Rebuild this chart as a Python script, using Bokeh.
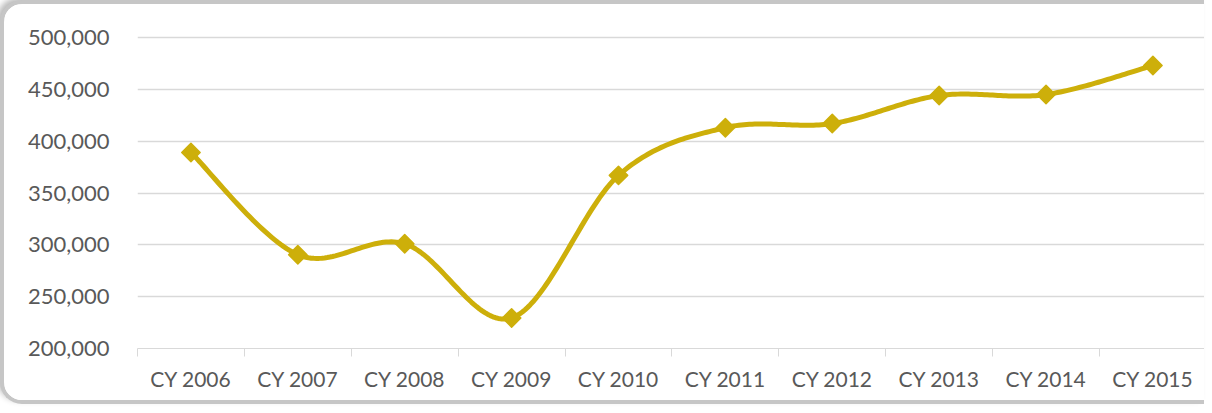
import numpy as np
from bokeh.plotting import figure
from bokeh.models import Range1d, FixedTicker, NumeralTickFormatter, ColumnDataSource
from bokeh.embed import file_html
from bokeh.resources import INLINE

categories = ["CY 2006", "CY 2007", "CY 2008", "CY 2009", "CY 2010",
              "CY 2011", "CY 2012", "CY 2013", "CY 2014", "CY 2015"]
values = [389000, 290500, 301000, 229500, 367000, 413000, 417000, 444000, 445000, 473000]
y_ticks = [200000, 250000, 300000, 350000, 400000, 450000, 500000]

GOLD = "#CDAF0A"
FONT = "Lato"

xs = np.arange(len(categories), dtype=float)
ys = np.array(values, dtype=float)

# Catmull-Rom style smoothing (like Excel's smoothed line)
def smooth(x, y, n=40):
    px, py = [], []
    N = len(x)
    for i in range(N - 1):
        x0, y0 = (x[i - 1], y[i - 1]) if i > 0 else (x[i], y[i])
        x1, y1 = x[i], y[i]
        x2, y2 = x[i + 1], y[i + 1]
        x3, y3 = (x[i + 2], y[i + 2]) if i + 2 < N else (x2, y2)
        c1x, c1y = x1 + (x2 - x0) / 6, y1 + (y2 - y0) / 6
        c2x, c2y = x2 - (x3 - x1) / 6, y2 - (y3 - y1) / 6
        t = np.linspace(0, 1, n, endpoint=(i == N - 2))
        b0 = (1 - t) ** 3
        b1 = 3 * (1 - t) ** 2 * t
        b2 = 3 * (1 - t) * t ** 2
        b3 = t ** 3
        px.extend(b0 * x1 + b1 * c1x + b2 * c2x + b3 * x2)
        py.extend(b0 * y1 + b1 * c1y + b2 * c2y + b3 * y2)
    return px, py

sx, sy = smooth(xs, ys)

p = figure(width=1204, height=404, output_backend="svg", toolbar_location=None,
           x_range=Range1d(-0.5, 9.52), y_range=Range1d(200000, 502900),
           min_border_left=133, min_border_right=0, min_border_top=30, min_border_bottom=60)
p.styles = {
    "border-left": "4px solid #c6c6c6",
    "border-top": "4px solid #c6c6c6",
    "border-bottom": "4px solid #c6c6c6",
    "border-radius": "22px 0 0 22px",
    "box-shadow": "-4px -3px 6px -1px rgba(0,0,0,0.28)",
    "overflow": "hidden",
    "background": "white",
}
p.outline_line_color = None
p.background_fill_color = "white"
p.border_fill_color = "white"

# x axis
xa = p.xaxis[0]
xa.ticker = FixedTicker(ticks=list(xs), minor_ticks=list(np.arange(-0.5, 10, 1.0)))
xa.major_label_overrides = {float(i): c for i, c in enumerate(categories)}
xa.major_label_overrides.update({int(i): c for i, c in enumerate(categories)})
xa.major_tick_out = 0
xa.major_tick_in = 0
xa.minor_tick_out = 8
xa.minor_tick_in = 0
xa.minor_tick_line_color = "#d9d9d9"
xa.minor_tick_line_width = 1
xa.axis_line_color = "#d9d9d9"
xa.axis_line_width = 1
xa.major_label_standoff = 9
xa.major_label_text_font = FONT
xa.major_label_text_font_size = "21px"
xa.major_label_text_color = "#595959"

# y axis
ya = p.yaxis[0]
ya.ticker = FixedTicker(ticks=y_ticks)
ya.formatter = NumeralTickFormatter(format="0,0")
ya.axis_line_color = None
ya.major_tick_line_color = None
ya.minor_tick_line_color = None
ya.major_tick_out = 0
ya.major_tick_in = 0
ya.major_label_standoff = 28
ya.major_label_text_font = FONT
ya.major_label_text_font_size = "22px"
ya.major_label_text_color = "#595959"

p.xgrid.grid_line_color = None
p.ygrid.grid_line_color = "#d9d9d9"
p.ygrid.grid_line_width = 1.5
p.ygrid.ticker = FixedTicker(ticks=y_ticks[1:])

p.line(sx, sy, line_color=GOLD, line_width=5, line_join="round", line_cap="round")
src = ColumnDataSource(dict(x=xs, y=ys))
p.scatter("x", "y", source=src, marker="square", size=13, angle=np.pi / 4,
          fill_color=GOLD, line_color=GOLD, line_width=1.5, line_join="round")

open("out.html", "w").write(file_html(p, INLINE))
